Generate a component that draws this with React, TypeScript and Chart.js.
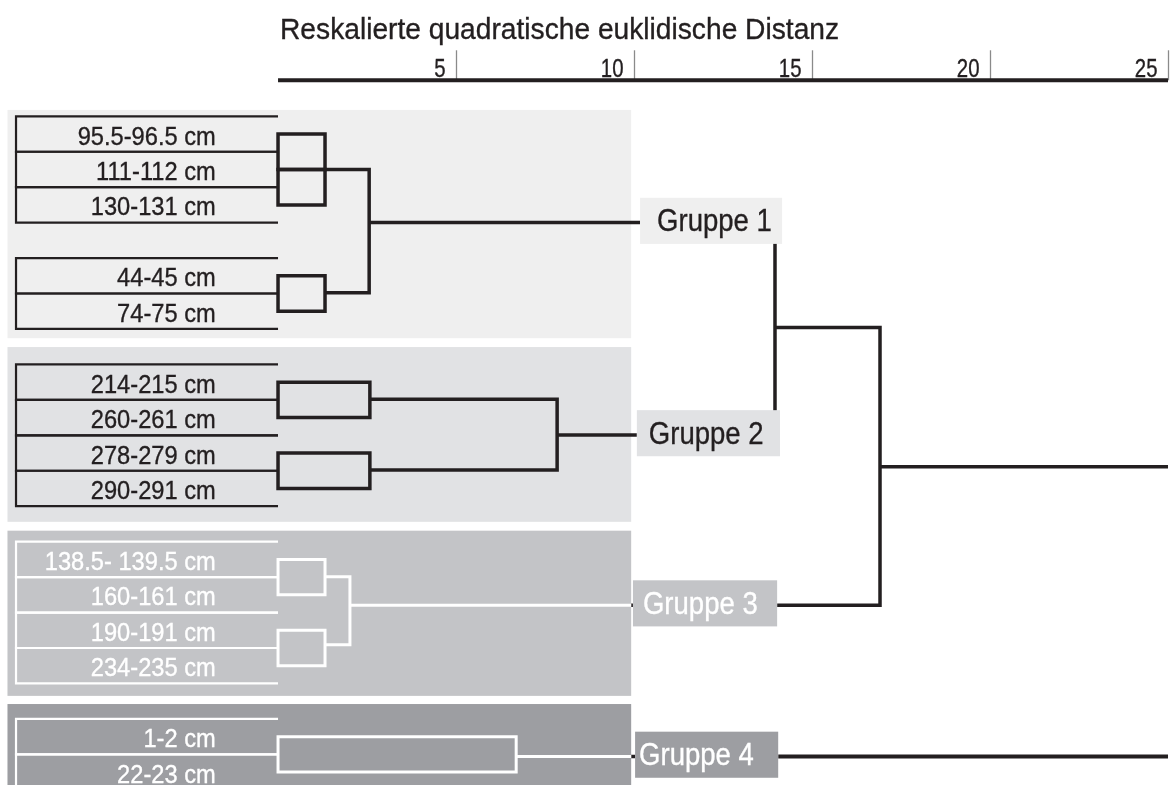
import React, { useEffect, useRef } from 'react';
import { Chart, registerables } from 'chart.js';

Chart.register(...registerables);

// ---------- data ----------
const axisTitle = 'Reskalierte quadratische euklidische Distanz';
const tickValues = [5, 10, 15, 20, 25];
const axisMax = 25;

const leafLabels = [
  '95.5-96.5 cm', '111-112 cm', '130-131 cm', '44-45 cm', '74-75 cm',
  '214-215 cm', '260-261 cm', '278-279 cm', '290-291 cm',
  '138.5- 139.5 cm', '160-161 cm', '190-191 cm', '234-235 cm',
  '1-2 cm', '22-23 cm',
];
const leafRows = [0, 1, 2, 4, 5, 7, 8, 9, 10, 12, 13, 14, 15, 17, 18];
const leafGroups = [0, 0, 0, 0, 0, 1, 1, 1, 1, 2, 2, 2, 2, 3, 3];

const groupNames = ['Gruppe 1', 'Gruppe 2', 'Gruppe 3', 'Gruppe 4'];
const groupRowTop = [-0.68, 6.01, 11.19, 16.08];
const groupRowBottom = [5.76, 10.94, 15.85, 18.8];
const groupOutRow = [2.5, 8.49, 13.29, 17.56];
const groupOutFrom = [2.56, 7.84, 2.02, 6.69];
const groupBoxFrom = [10.17, 10.08, 9.97, 10.03];
const groupBoxTo = [14.16, 14.1, 14.02, 14.05];

// merges (distance, upper row, lower row, start distance of upper / lower branch, group; -1 = top level)
const mergeDist = [1.32, 1.32, 1.32, 2.56, 2.58, 2.58, 7.84, 1.32, 1.32, 2.02, 6.69, 13.96, 16.91];
const mergeRowA = [0, 1, 4, 1, 7, 9, 7.48, 12, 14, 12.49, 17, 2.5, 5.46];
const mergeRowB = [1, 2, 5, 4.48, 8, 10, 9.48, 13, 15, 14.41, 18, 8.49, 13.29];
const mergeFromA = [0, 0, 0, 1.32, 0, 0, 2.58, 0, 0, 1.32, 0, 13.96, 13.96];
const mergeFromB = [0, 0, 0, 1.32, 0, 0, 2.58, 0, 0, 1.32, 0, 13.96, 14.02];
const mergeGroup = [0, 0, 0, 0, 1, 1, 1, 2, 2, 2, 3, -1, -1];

const rootRow = 9.39;
const rootFrom = 16.91;

// ---------- layout / style ----------
const X_MIN = -7.81;
const X_MAX = 25.056;
const Y_MIN = -3.78;
const Y_MAX = 18.364;
const AXIS_ROW = -1.515;
const BG_LEFT = -7.6;
const BG_RIGHT = 9.92;
const FRAME_LEFT = -7.36;
const LEAF_TEXT_X = -1.75;

const INK = '#231f20';
const groupFill = ['#efefef', '#e1e2e4', '#c3c4c7', '#9d9ea2'];
const groupInk = [INK, INK, '#ffffff', '#ffffff'];
const groupTextPad = [17, 12, 10, 4];
const FONT = '"Liberation Sans", Arial, sans-serif';

type Pt = { x: number; y: number };

function lineDs(points: Pt[], color: string, width: number, cap: 'butt' | 'square' = 'butt') {
  return {
    type: 'scatter' as const,
    data: points,
    showLine: true,
    pointRadius: 0,
    pointHoverRadius: 0,
    borderColor: color,
    borderWidth: width,
    borderCapStyle: cap,
    borderJoinStyle: 'miter' as const,
    fill: false,
    tension: 0,
  };
}

function buildDatasets() {
  const ds: any[] = [];
  leafRows.forEach((r, i) => {
    const c = groupInk[leafGroups[i]];
    ds.push(lineDs([
      { x: 0, y: r - 0.5 }, { x: FRAME_LEFT, y: r - 0.5 },
      { x: FRAME_LEFT, y: r + 0.5 }, { x: 0, y: r + 0.5 },
    ], c, 2.2));
  });
  mergeDist.forEach((h, i) => {
    const g = mergeGroup[i];
    const c = g < 0 ? INK : groupInk[g];
    const a = mergeRowA[i];
    const b = mergeRowB[i];
    const fa = mergeFromA[i];
    const fb = mergeFromB[i];
    const pts: Pt[] = [{ x: fa, y: a }, { x: h, y: a }, { x: h, y: b }, { x: fb, y: b }];
    const closed = fa === 0 && fb === 0;
    if (closed) pts.push({ x: fa, y: a });
    ds.push(lineDs(pts, c, g === 2 || g === 3 ? 3 : 3.5, closed ? 'square' : 'butt'));
  });
  groupOutRow.forEach((r, g) => {
    if (g < 2) {
      ds.push(lineDs([{ x: groupOutFrom[g], y: r }, { x: groupBoxFrom[g], y: r }], INK, 3.5));
    } else {
      ds.push(lineDs([{ x: groupOutFrom[g], y: r }, { x: BG_RIGHT, y: r }], '#ffffff', 3));
      ds.push(lineDs([{ x: BG_RIGHT, y: r }, { x: groupBoxFrom[g], y: r }], INK, 3.5));
    }
  });
  ds.push(lineDs([{ x: rootFrom, y: rootRow }, { x: axisMax, y: rootRow }], INK, 3.5));
  ds.push(lineDs([{ x: groupBoxTo[3], y: groupOutRow[3] }, { x: axisMax, y: groupOutRow[3] }], INK, 4));
  return ds;
}

function drawText(ctx: CanvasRenderingContext2D, text: string, x: number, y: number,
  size: number, color: string, align: CanvasTextAlign, sx: number) {
  ctx.save();
  ctx.translate(x, y);
  ctx.scale(sx, 1);
  ctx.font = `${size}px ${FONT}`;
  ctx.fillStyle = color;
  ctx.strokeStyle = color;
  ctx.lineWidth = 0.35;
  ctx.textAlign = align;
  ctx.textBaseline = 'alphabetic';
  ctx.fillText(text, 0, 0);
  ctx.strokeText(text, 0, 0);
  ctx.restore();
}

const dendroPlugin = {
  id: 'dendroDecor',
  beforeDatasetsDraw(chart: any) {
    const { ctx } = chart;
    const xs = chart.scales.x;
    const ys = chart.scales.y;
    ctx.save();
    groupFill.forEach((f, g) => {
      const x1 = xs.getPixelForValue(BG_LEFT);
      const x2 = xs.getPixelForValue(BG_RIGHT);
      const y1 = ys.getPixelForValue(groupRowTop[g]);
      const y2 = ys.getPixelForValue(groupRowBottom[g]);
      ctx.fillStyle = f;
      ctx.fillRect(x1, y1, x2 - x1, y2 - y1);
    });
    ctx.restore();
  },
  afterDatasetsDraw(chart: any) {
    const { ctx } = chart;
    const xs = chart.scales.x;
    const ys = chart.scales.y;
    ctx.save();
    groupNames.forEach((name, g) => {
      const x1 = xs.getPixelForValue(groupBoxFrom[g]);
      const x2 = xs.getPixelForValue(groupBoxTo[g]);
      const cy = ys.getPixelForValue(groupOutRow[g] - 0.05);
      const y1 = ys.getPixelForValue(groupOutRow[g] - 0.7);
      const y2 = ys.getPixelForValue(groupOutRow[g] + 0.6);
      ctx.fillStyle = groupFill[g];
      ctx.fillRect(x1, y1, x2 - x1, y2 - y1);
      drawText(ctx, name, x1 + groupTextPad[g], cy + 10.5, 32, groupInk[g], 'left', 0.86);
    });
    leafLabels.forEach((lab, i) => {
      const x = xs.getPixelForValue(LEAF_TEXT_X);
      const y = ys.getPixelForValue(leafRows[i]);
      drawText(ctx, lab, x, y + 10.5, 26, groupInk[leafGroups[i]], 'right', 0.91);
    });
    const ay = ys.getPixelForValue(AXIS_ROW);
    const ax0 = xs.getPixelForValue(0);
    const ax1 = xs.getPixelForValue(axisMax);
    ctx.strokeStyle = '#8a8a8a';
    ctx.lineWidth = 1.3;
    tickValues.forEach((t) => {
      const tx = Math.round(xs.getPixelForValue(t)) + 0.5;
      ctx.beginPath();
      ctx.moveTo(tx, ay - 30);
      ctx.lineTo(tx, ay);
      ctx.stroke();
      drawText(ctx, String(t), tx - 11, ay - 3.6, 25.5, INK, 'right', 0.8);
    });
    ctx.strokeStyle = INK;
    ctx.lineWidth = 4;
    ctx.beginPath();
    ctx.moveTo(ax0, ay);
    ctx.lineTo(ax1, ay);
    ctx.stroke();
    drawText(ctx, axisTitle, ax0 + 2, ay - 41, 29.5, INK, 'left', 0.955);
    ctx.restore();
  },
};

export default function App() {
  const ref = useRef<HTMLCanvasElement | null>(null);
  useEffect(() => {
    if (!ref.current) return;
    const chart = new Chart(ref.current, {
      type: 'scatter',
      data: { datasets: buildDatasets() },
      options: {
        animation: false,
        responsive: false,
        maintainAspectRatio: false,
        events: [],
        layout: { padding: 0 },
        scales: {
          x: { type: 'linear', min: X_MIN, max: X_MAX, display: false },
          y: { type: 'linear', min: Y_MIN, max: Y_MAX, reverse: true, display: false },
        },
        plugins: { legend: { display: false }, tooltip: { enabled: false }, title: { display: false } },
      },
      plugins: [dendroPlugin],
    } as any);
    return () => chart.destroy();
  }, []);
  return (
    <div style={{ position: 'absolute', left: 0, top: 0, width: 1170, height: 785, background: '#ffffff' }}>
      <canvas ref={ref} width={1170} height={785} style={{ display: 'block' }} />
    </div>
  );
}
